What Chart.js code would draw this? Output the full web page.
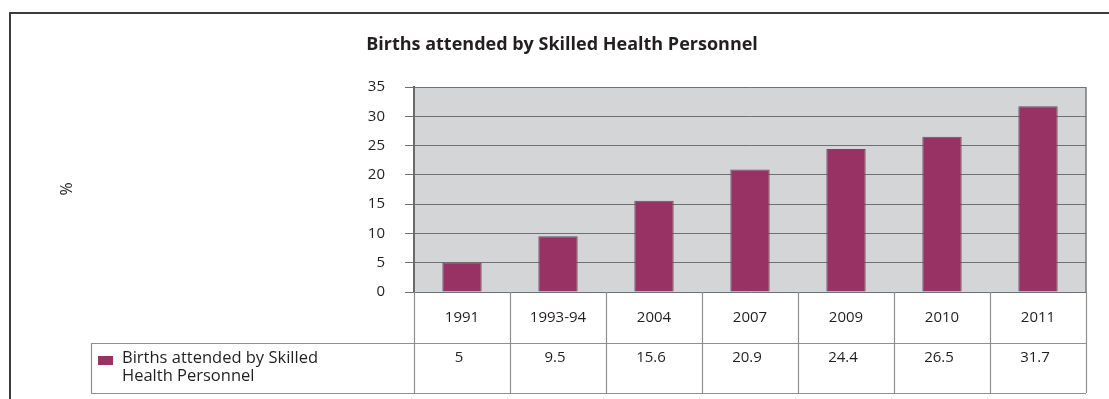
<!DOCTYPE html>
<html>
<head>
<meta charset="UTF-8">
<title>Births attended by Skilled Health Personnel</title>
<script src="https://cdn.jsdelivr.net/npm/chart.js"></script>
<style>
  html, body { margin: 0; padding: 0; background: #fff; }
  canvas { display: block; }
</style>
</head>
<body>
<canvas id="births" width="1109" height="399"></canvas>
<script>
  const categories = ['1991', '1993-94', '2004', '2007', '2009', '2010', '2011'];
  const birthsAttended = [5, 9.5, 15.6, 20.9, 24.4, 26.5, 31.7];
  const yTicks = [0, 5, 10, 15, 20, 25, 30, 35];
  const seriesLines = ['Births attended by Skilled', 'Health Personnel'];
  const chartTitle = 'Births attended by Skilled Health Personnel';
  const unitLabel = '%';

  const barColor = '#983264';
  const font = '"Open Sans", "DejaVu Sans", sans-serif';

  // grey plot background
  const plotBg = {
    id: 'plotBg',
    beforeDraw(chart) {
      const { ctx, chartArea: a } = chart;
      ctx.save();
      ctx.fillStyle = '#d4d5d7';
      ctx.fillRect(a.left, a.top, a.right - a.left, a.bottom - a.top);
      ctx.restore();
    }
  };

  // frame, title, unit label and the data table under the bars
  const extras = {
    id: 'extras',
    afterDraw(chart) {
      const { ctx, chartArea: a } = chart;
      const x = chart.scales.x;
      const rowTop = a.bottom, rowMid = 343, rowEnd = 393;
      const tableLeft = 91;
      ctx.save();

      // outer frame (cut at right and bottom)
      ctx.strokeStyle = '#3c3c3c';
      ctx.lineWidth = 2;
      ctx.beginPath();
      ctx.moveTo(10, 399);
      ctx.lineTo(10, 13);
      ctx.lineTo(1109, 13);
      ctx.stroke();

      // title
      ctx.fillStyle = '#231f20';
      ctx.font = 'bold 18px ' + font;
      ctx.textAlign = 'center';
      ctx.textBaseline = 'middle';
      ctx.fillText(chartTitle, 562, 45);

      // unit label
      ctx.save();
      ctx.translate(67, 189);
      ctx.rotate(-Math.PI / 2);
      ctx.font = '16px ' + font;
      ctx.fillText(unitLabel, 0, 0);
      ctx.restore();

      // plot right edge
      ctx.strokeStyle = '#777';
      ctx.lineWidth = 1.5;
      ctx.beginPath();
      ctx.moveTo(a.right, a.top);
      ctx.lineTo(a.right, a.bottom);
      ctx.stroke();

      // table grid
      ctx.strokeStyle = '#8f8f8f';
      ctx.lineWidth = 1.2;
      ctx.beginPath();
      const step = (a.right - a.left) / categories.length;
      for (let i = 0; i <= categories.length; i++) {
        const gx = Math.round(a.left + i * step) + 0.5;
        ctx.moveTo(gx, rowTop);
        ctx.lineTo(gx, rowEnd);
      }
      ctx.moveTo(tableLeft, rowMid + 0.5);
      ctx.lineTo(a.right, rowMid + 0.5);
      ctx.moveTo(tableLeft, rowEnd + 0.5);
      ctx.lineTo(a.right, rowEnd + 0.5);
      ctx.moveTo(tableLeft + 0.5, rowMid);
      ctx.lineTo(tableLeft + 0.5, rowEnd);
      ctx.stroke();

      // legend key + series name
      ctx.fillStyle = barColor;
      ctx.fillRect(98, 356, 15, 9);
      ctx.fillStyle = '#231f20';
      ctx.font = '16.5px ' + font;
      ctx.textAlign = 'left';
      ctx.fillText(seriesLines[0], 122, 358);
      ctx.fillText(seriesLines[1], 122, 376);

      // values row
      ctx.font = '15px ' + font;
      ctx.textAlign = 'center';
      birthsAttended.forEach((v, i) => {
        ctx.fillText(String(v), x.getPixelForValue(i) - 3, 358);
      });

      ctx.restore();
    }
  };

  new Chart(document.getElementById('births'), {
    type: 'bar',
    data: {
      labels: categories,
      datasets: [{
        label: seriesLines.join(' '),
        data: birthsAttended,
        backgroundColor: barColor,
        borderColor: '#5a5a5a',
        borderWidth: 1,
        categoryPercentage: 1,
        barPercentage: 0.41
      }]
    },
    options: {
      responsive: false,
      animation: false,
      layout: { padding: { top: 87, right: 23, bottom: 6, left: 0 } },
      plugins: {
        legend: { display: false },
        title: { display: false },
        tooltip: { enabled: false }
      },
      scales: {
        x: {
          grid: { display: false },
          border: { display: false },
          ticks: {
            color: '#231f20',
            font: { family: font, size: 15 },
            padding: 9,
            maxRotation: 0
          },
          afterFit(scale) { scale.height = 101; }
        },
        y: {
          min: yTicks[0],
          max: yTicks[yTicks.length - 1],
          afterBuildTicks(scale) { scale.ticks = yTicks.map(v => ({ value: v })); },
          grid: { color: '#707070', lineWidth: 1, tickLength: 9 },
          border: { color: '#6a6a6a', width: 2 },
          ticks: {
            color: '#231f20',
            font: { family: font, size: 15 },
            padding: 20
          },
          afterFit(scale) { scale.width = 414; }
        }
      }
    },
    plugins: [plotBg, extras]
  });
</script>
</body>
</html>
